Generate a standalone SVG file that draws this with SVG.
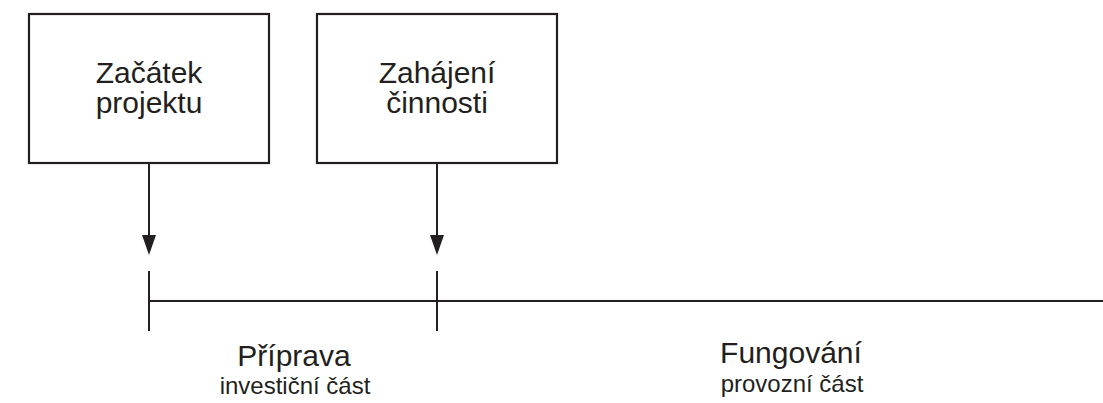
<svg xmlns="http://www.w3.org/2000/svg" width="1103" height="403" viewBox="0 0 1103 403">
<style>
.box{fill:#fff;stroke:#231f20;stroke-width:2.2}
.ln{stroke:#231f20;stroke-width:2;fill:none}
.t{font-family:"Liberation Sans",Arial,sans-serif;fill:#231f20;text-anchor:middle}
.m{font-size:30px}
.s{font-size:24px}
</style>
<rect width="1103" height="403" fill="#fff"/>
<g id="node-zacatek">
<rect class="box" x="29" y="14" width="240" height="149"/>
<text class="t m" x="149" y="83">Začátek</text>
<text class="t m" x="149" y="113">projektu</text>
</g>
<g id="node-zahajeni">
<rect class="box" x="317" y="14" width="240" height="149"/>
<text class="t m" x="437" y="83">Zahájení</text>
<text class="t m" x="437" y="113">činnosti</text>
</g>
<g id="connectors">
<line class="ln" x1="149" y1="163" x2="149" y2="235"/>
<path d="M142,235 L156,235 L149,255 Z" fill="#231f20"/>
<line class="ln" x1="437" y1="163" x2="437" y2="235"/>
<path d="M430,235 L444,235 L437,255 Z" fill="#231f20"/>
</g>
<g id="timeline">
<line class="ln" x1="149" y1="301" x2="1103" y2="301"/>
<line class="ln" x1="149" y1="271" x2="149" y2="331"/>
<line class="ln" x1="437" y1="271" x2="437" y2="331"/>
</g>
<g id="label-priprava">
<text class="t m" x="294" y="366">Příprava</text>
<text class="t s" x="295" y="394">investiční část</text>
</g>
<g id="label-fungovani">
<text class="t m" x="791" y="363">Fungování</text>
<text class="t s" x="792" y="392">provozní část</text>
</g>
</svg>
